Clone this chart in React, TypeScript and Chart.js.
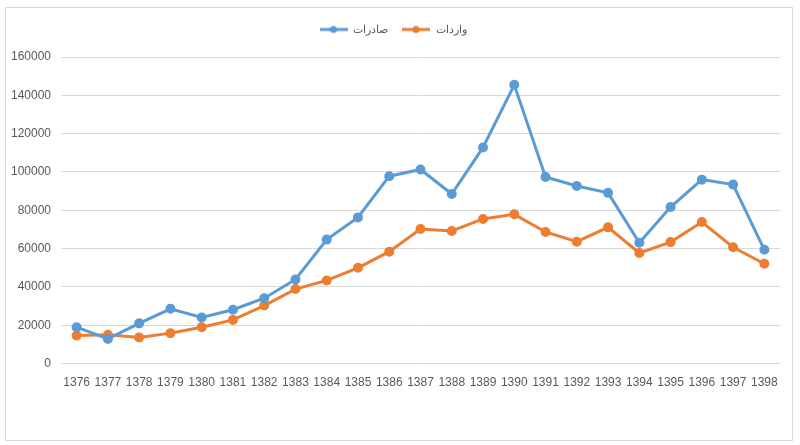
import React, { useEffect, useRef } from "react";
import { Chart, registerables } from "chart.js";

Chart.register(...registerables);

const years = ["1376","1377","1378","1379","1380","1381","1382","1383","1384","1385","1386","1387","1388","1389","1390","1391","1392","1393","1394","1395","1396","1397","1398"];
const exportsLabel = "صادرات";
const importsLabel = "واردات";
const exportsValues = [19000, 12900, 21000, 28600, 24100, 28100, 34100, 43900, 64700, 76300, 97800, 101300, 88500, 112800, 145500, 97400, 92700, 89100, 63100, 81700, 96000, 93400, 59400];
const importsValues = [14600, 15000, 13600, 15900, 19000, 22800, 30300, 38900, 43400, 50000, 58400, 70200, 69200, 75500, 77900, 68700, 63600, 71100, 57700, 63400, 73900, 60700, 52100];

const BLUE = "#5B9BD5";
const ORANGE = "#ED7D31";

function legendIcon(color: string): HTMLCanvasElement {
  const c = document.createElement("canvas");
  c.width = 28;
  c.height = 10;
  const ctx = c.getContext("2d")!;
  ctx.strokeStyle = color;
  ctx.lineWidth = 3;
  ctx.beginPath();
  ctx.moveTo(0, 5);
  ctx.lineTo(28, 5);
  ctx.stroke();
  ctx.fillStyle = color;
  ctx.beginPath();
  ctx.arc(14, 5, 3.5, 0, Math.PI * 2);
  ctx.fill();
  return c;
}

const legendMargin = {
  id: "legendMargin",
  beforeInit(chart: any) {
    const orig = chart.legend.fit;
    chart.legend.fit = function () {
      orig.bind(chart.legend)();
      this.height += 12;
    };
  },
};

export default function App() {
  const ref = useRef<HTMLCanvasElement | null>(null);
  useEffect(() => {
    document.body.style.margin = "0";
    const font = { family: "'Liberation Sans', Arial, sans-serif", size: 12 };
    const chart = new Chart(ref.current!, {
      type: "line",
      plugins: [legendMargin],
      data: {
        labels: years,
        datasets: [
          {
            label: exportsLabel,
            data: exportsValues,
            borderColor: BLUE,
            backgroundColor: BLUE,
            borderWidth: 3,
            pointRadius: 3.5,
            pointHoverRadius: 3.5,
            pointBackgroundColor: BLUE,
            pointBorderColor: BLUE,
            tension: 0,
          },
          {
            label: importsLabel,
            data: importsValues,
            borderColor: ORANGE,
            backgroundColor: ORANGE,
            borderWidth: 3,
            pointRadius: 3.5,
            pointHoverRadius: 3.5,
            pointBackgroundColor: ORANGE,
            pointBorderColor: ORANGE,
            tension: 0,
          },
        ],
      },
      options: {
        animation: false,
        responsive: true,
        maintainAspectRatio: false,
        layout: { padding: { left: 0, right: 12, top: 2, bottom: 38 } },
        plugins: {
          tooltip: { enabled: false },
          legend: {
            position: "top",
            labels: {
              font: { ...font, size: 11 },
              color: "#595959",
              boxWidth: 28,
              boxHeight: 10,
              pointStyleWidth: 28,
              padding: 14,
              usePointStyle: true,
              generateLabels: (ch: any) =>
                ch.data.datasets.map((ds: any, i: number) => ({
                  text: ds.label,
                  fillStyle: ds.borderColor,
                  strokeStyle: ds.borderColor,
                  pointStyle: legendIcon(ds.borderColor),
                  datasetIndex: i,
                  hidden: false,
                  lineWidth: 0,
                  fontColor: "#595959",
                })),
            },
          },
        },
        scales: {
          x: {
            offset: true,
            grid: { display: false, drawTicks: false },
            border: { display: false },
            ticks: { font, color: "#595959", autoSkip: false, maxRotation: 0, padding: 12 },
          },
          y: {
            min: 0,
            max: 160000,
            afterFit: (axis: any) => {
              axis.width = 55;
            },
            grid: { color: "#D9D9D9", drawTicks: false, lineWidth: 1 },
            border: { display: false },
            ticks: {
              stepSize: 20000,
              font,
              color: "#595959",
              padding: 10,
              callback: (v: any) => String(v),
            },
          },
        },
      },
    });
    return () => chart.destroy();
  }, []);
  return (
    <div
      style={{
        position: "absolute",
        left: 5,
        top: 7,
        width: 786,
        height: 432,
        border: "1px solid #D9D9D9",
        background: "#fff",
      }}
    >
      <canvas ref={ref} />
    </div>
  );
}
